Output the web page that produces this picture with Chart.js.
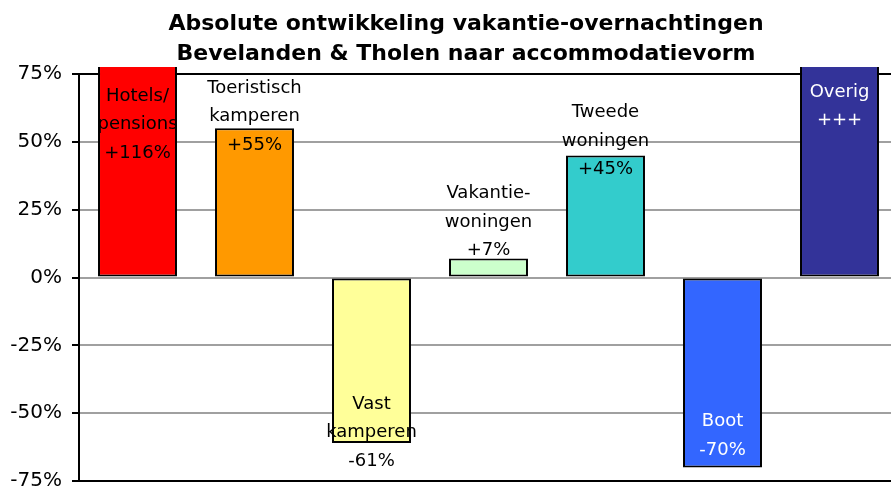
<!DOCTYPE html>
<html>
<head>
<meta charset="utf-8">
<script src="https://cdn.jsdelivr.net/npm/chart.js@4.4.1/dist/chart.umd.min.js"></script>
<style>
  html, body { margin: 0; padding: 0; background: #fff; overflow: hidden; }
  #wrap { position: relative; width: 930px; height: 488px; margin-left: -30px; }
</style>
</head>
<body>
<div id="wrap"><canvas id="c" width="930" height="488"></canvas></div>
<script>
// ---- data ----
const categories = ["Hotels/pensions", "Toeristisch kamperen", "Vast kamperen", "Vakantie-woningen", "Tweede woningen", "Boot", "Overig"];
const values = [116, 55, -61, 7, 45, -70, 100];
const labelLines = [
  ["Hotels/", "pensions", "+116%"],
  ["Toeristisch", "kamperen", "+55%"],
  ["Vast", "kamperen", "-61%"],
  ["Vakantie-", "woningen", "+7%"],
  ["Tweede", "woningen", "+45%"],
  ["Boot", "-70%"],
  ["Overig", "+++"]
];
const titleLines = ["Absolute ontwikkeling vakantie-overnachtingen", "Bevelanden & Tholen naar accommodatievorm"];
const yMin = -75, yMax = 75, yStep = 25;

// ---- styles ----
const barColors = ["#FF0000", "#FF9900", "#FFFF99", "#CCFFCC", "#33CCCC", "#3366FF", "#333399"];
const labelColors = ["#000", "#000", "#000", "#000", "#000", "#fff", "#fff"];
const labelDy = [50.5, -11.5, -10.5, -36.5, -14.5, -31.5, 32.5];  // px offset of label block centre from bar end
const labelLineHeight = 28.5;
const titleShift = 64;   // title box starts this far right (title is centred off the canvas middle)
const FONT = "'DejaVu Sans', Verdana, sans-serif";

const barLabels = {
  id: 'barLabels',
  afterLayout(chart) {
    if (chart.titleBlock) chart.titleBlock.left += titleShift;
  },
  afterDatasetsDraw(chart) {
    const ctx = chart.ctx;
    const area = chart.chartArea;
    const meta = chart.getDatasetMeta(0);
    ctx.save();
    ctx.font = "18px " + FONT;
    ctx.textAlign = "center";
    ctx.textBaseline = "middle";
    meta.data.forEach((el, i) => {
      const yEnd = Math.min(Math.max(el.y, area.top), area.bottom);
      const mid = yEnd + labelDy[i];
      const lines = labelLines[i];
      ctx.fillStyle = labelColors[i];
      lines.forEach((t, k) => {
        const y = mid + (k - (lines.length - 1) / 2) * labelLineHeight;
        ctx.fillText(t, el.x, y);
      });
    });
    ctx.restore();
  }
};

new Chart(document.getElementById('c'), {
  type: 'bar',
  data: {
    labels: categories,
    datasets: [{
      data: values,
      backgroundColor: barColors,
      borderColor: "#000",
      borderWidth: 2,
      borderSkipped: false,
      barPercentage: 0.675,
      categoryPercentage: 1,
      clip: { left: false, top: 7, right: false, bottom: 0 }
    }]
  },
  options: {
    responsive: false,
    animation: false,
    layout: { autoPadding: false, padding: { left: 0, right: 2, top: 0, bottom: 7 } },
    plugins: {
      legend: { display: false },
      tooltip: { enabled: false },
      title: {
        display: true,
        text: titleLines,
        color: "#000",
        font: { family: FONT, size: 22, weight: "bold", lineHeight: 30 / 22 },
        padding: { top: 9, bottom: 5 }
      }
    },
    scales: {
      x: { display: false },
      y: {
        min: yMin, max: yMax,
        afterFit: (s) => { s.width = 109; s.paddingTop = 0; s.paddingBottom = 0; },
        ticks: {
          stepSize: yStep,
          padding: 10,
          color: "#000",
          font: { family: FONT, size: 20 },
          callback: (v) => v + "%"
        },
        grid: {
          color: (c) => (c.tick && (c.tick.value === yMax || c.tick.value === yMin)) ? "#000" : "#a0a0a0",
          lineWidth: 2,
          tickColor: "#000",
          tickLength: 7,
          drawTicks: true
        },
        border: { color: "#000", width: 2 }
      }
    }
  },
  plugins: [barLabels]
});
</script>
</body>
</html>
